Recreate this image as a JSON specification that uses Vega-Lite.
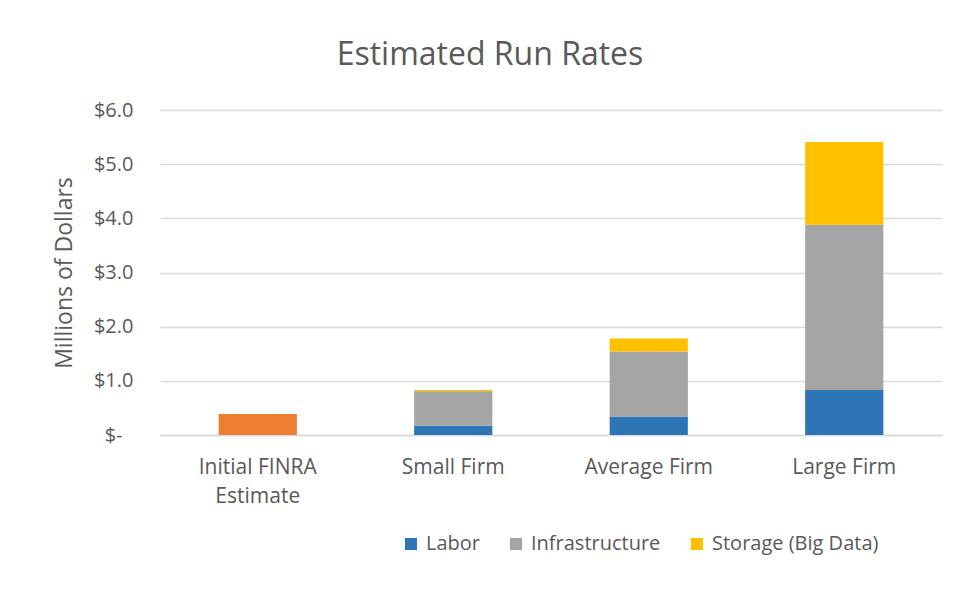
{
  "$schema": "https://vega.github.io/schema/vega-lite/v6.json",
  "autosize": {"type": "none"},
  "width": 782,
  "height": 325,
  "padding": {"left": 160, "top": 110, "right": 22, "bottom": 154},
  "background": "white",
  "title": {
    "text": "Estimated Run Rates",
    "anchor": "middle",
    "frame": "group",
    "dx": -61,
    "offset": 28,
    "font": "Open Sans",
    "fontSize": 32,
    "fontWeight": "normal",
    "color": "#595959"
  },
  "data": {
    "values": [
      {"firm": "Initial FINRA Estimate", "component": "FINRA Estimate", "k": 0, "value": 0.39},
      {"firm": "Small Firm", "component": "Labor", "k": 1, "value": 0.17},
      {"firm": "Small Firm", "component": "Infrastructure", "k": 2, "value": 0.64},
      {"firm": "Small Firm", "component": "Storage (Big Data)", "k": 3, "value": 0.02},
      {"firm": "Average Firm", "component": "Labor", "k": 1, "value": 0.34},
      {"firm": "Average Firm", "component": "Infrastructure", "k": 2, "value": 1.20},
      {"firm": "Average Firm", "component": "Storage (Big Data)", "k": 3, "value": 0.24},
      {"firm": "Large Firm", "component": "Labor", "k": 1, "value": 0.83},
      {"firm": "Large Firm", "component": "Infrastructure", "k": 2, "value": 3.05},
      {"firm": "Large Firm", "component": "Storage (Big Data)", "k": 3, "value": 1.53}
    ]
  },
  "mark": {"type": "bar"},
  "encoding": {
    "x": {
      "field": "firm",
      "type": "nominal",
      "sort": ["Initial FINRA Estimate", "Small Firm", "Average Firm", "Large Firm"],
      "scale": {"paddingInner": 0.6, "paddingOuter": 0.3},
      "axis": {
        "title": null,
        "labelAngle": 0,
        "labelExpr": "datum.value == 'Initial FINRA Estimate' ? ['Initial FINRA', 'Estimate'] : datum.value",
        "labelFont": "Open Sans",
        "labelFontSize": 21,
        "labelColor": "#595959",
        "labelPadding": 32,
        "labelBaseline": "middle",
        "labelLineHeight": 29,
        "ticks": false,
        "domain": true,
        "domainColor": "#d9d9d9",
        "domainWidth": 1.5
      }
    },
    "y": {
      "field": "value",
      "type": "quantitative",
      "stack": "zero",
      "scale": {"domain": [0, 6], "nice": false},
      "axis": {
        "title": "Millions of Dollars",
        "titleFont": "Open Sans",
        "titleFontSize": 23,
        "titleFontWeight": "normal",
        "titleColor": "#595959",
        "titlePadding": 17,
        "values": [0, 1, 2, 3, 4, 5, 6],
        "labelExpr": "datum.value == 0 ? '$-' : '$' + format(datum.value, '.1f')",
        "labelFont": "Open Sans",
        "labelFontSize": 20,
        "labelColor": "#595959",
        "labelPadding": {"condition": {"test": "datum.value == 0", "value": 38}, "value": 27},
        "ticks": false,
        "domain": false,
        "grid": true,
        "gridColor": "#d9d9d9",
        "gridWidth": 1.5
      }
    },
    "color": {
      "field": "component",
      "type": "nominal",
      "scale": {
        "domain": ["Labor", "Infrastructure", "Storage (Big Data)", "FINRA Estimate"],
        "range": ["#2E75B6", "#A5A5A5", "#FFC000", "#ED7D31"]
      },
      "legend": {
        "title": null,
        "values": ["Labor", "Infrastructure", "Storage (Big Data)"],
        "orient": "none",
        "direction": "horizontal",
        "legendX": 241,
        "legendY": 424,
        "symbolType": "square",
        "symbolSize": 144,
        "symbolStrokeWidth": 0,
        "labelFont": "Open Sans",
        "labelFontSize": 20,
        "labelColor": "#595959",
        "labelOffset": 5,
        "columnPadding": 26,
        "labelLimit": 400
      }
    },
    "order": {"field": "k", "type": "quantitative"}
  },
  "config": {"view": {"stroke": null}}
}
